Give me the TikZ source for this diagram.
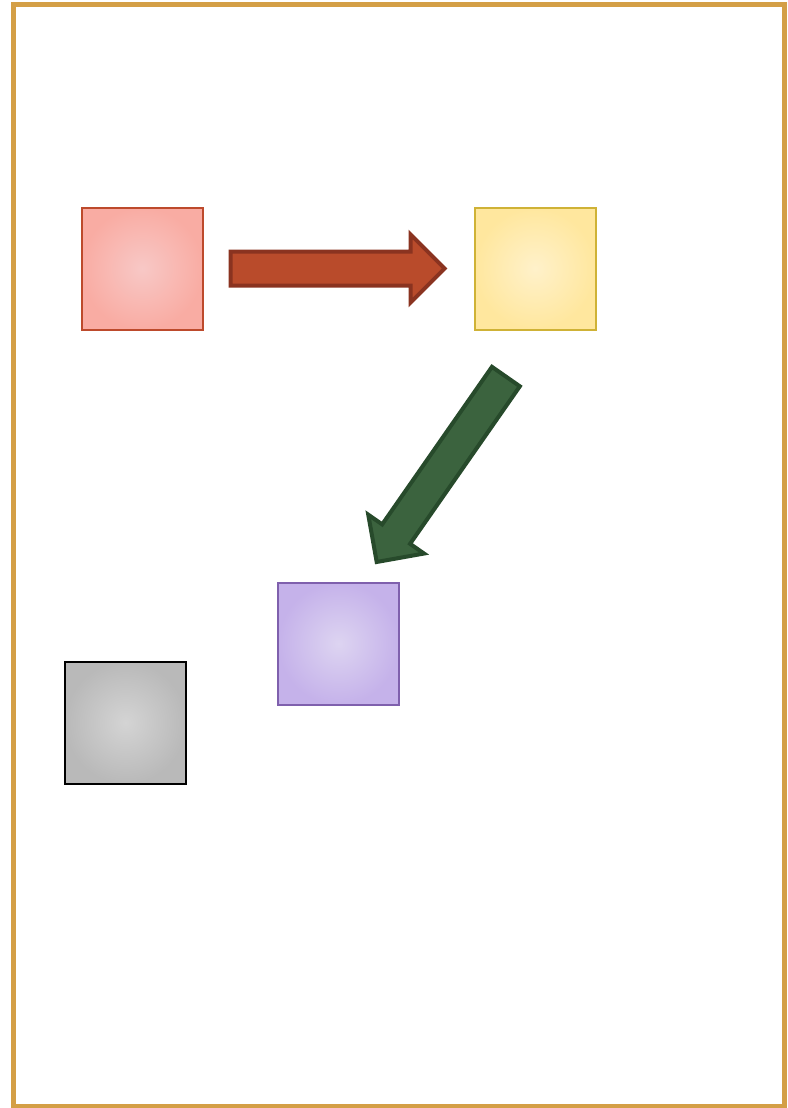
\documentclass[tikz,border=0pt]{standalone}
\usepackage{tikz}
\usetikzlibrary{positioning,shapes.arrows,calc}

\definecolor{framegold}{HTML}{D49F46}
\definecolor{redline}{HTML}{BD4A2C}
\definecolor{redin}{HTML}{F8C8C6}
\definecolor{redout}{HTML}{F9ACA3}
\definecolor{yelline}{HTML}{CFB236}
\definecolor{yelin}{HTML}{FFF1CA}
\definecolor{yelout}{HTML}{FFE79E}
\definecolor{purline}{HTML}{7F60AD}
\definecolor{purin}{HTML}{DDD4F1}
\definecolor{purout}{HTML}{C5B2EA}
\definecolor{grayin}{HTML}{D4D4D4}
\definecolor{grayout}{HTML}{B9B9B9}
\definecolor{arrowred}{HTML}{B94B2B}
\definecolor{arrowredline}{HTML}{8A3320}
\definecolor{arrowgreen}{HTML}{3B633E}
\definecolor{arrowgreenline}{HTML}{274A2B}

\begin{document}
\begin{tikzpicture}[x=1pt, y=-1pt,
  tile/.style n args={3}{draw=#1, line width=2pt, minimum width=121pt,
               minimum height=122pt, inner sep=0pt,
               preaction={shading=radial, inner color=#2, outer color=#3}},
  redtile/.style={tile={redline}{redin}{redout}},
  yeltile/.style={tile={yelline}{yelin}{yelout}},
  purtile/.style={tile={purline}{purin}{purout}},
  graytile/.style={tile={black}{grayin}{grayout}},
  blockarr/.style={single arrow, single arrow head extend=17pt,
                   inner xsep=0pt, inner ysep=15pt, line width=4pt,
                   sloped, allow upside down, anchor=tail},
  redarr/.style={blockarr, minimum height=214pt, fill=arrowred, draw=arrowredline},
  greenarr/.style={blockarr, minimum height=226pt, fill=arrowgreen, draw=arrowgreenline}
]
  \useasboundingbox (0,0) rectangle (787,1108);
  \draw[framegold, line width=4.5pt] (13.5,4.5) rectangle (784.5,1106.5);

  \node[redtile] (red) at (142,268.5) {};
  \node[yeltile, right=270pt of red] (yellow) {};
  \node[purtile] (purple) at (338.5,643.5) {};
  \node[graytile] (gray) at (125.5,722.5) {};

  \path (red) -- (yellow) node[redarr, pos=0.093] (toyellow) {};

  \coordinate (landing) at ($(purple.north west)!0.7!(purple.north east)$);
  \path ([xshift=3pt]yellow.south) -- (landing) node[greenarr, pos=0.177] (topurple) {};
\end{tikzpicture}
\end{document}
